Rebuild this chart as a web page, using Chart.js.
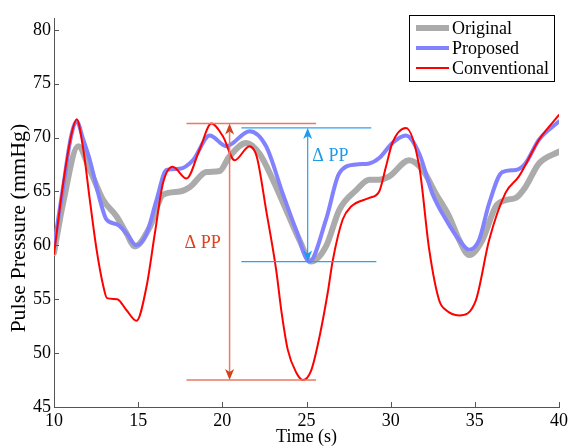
<!DOCTYPE html>
<html><head><meta charset="utf-8">
<script src="https://cdn.jsdelivr.net/npm/chart.js@4"></script>
<style>html,body{margin:0;padding:0;background:#fff}</style>
</head><body>
<canvas id="c" width="571" height="448"></canvas>
<script>
const xTicks = [10, 15, 20, 25, 30, 35, 40];
const yTicks = [45, 50, 55, 60, 65, 70, 75, 80];
const seriesNames = ['Original', 'Proposed', 'Conventional'];
const yTitle = 'Pulse Pressure (mmHg)';
const xTitle = 'Time (s)';

const originalT = [10, 10.55, 11.44, 12.13, 12.92, 13.71, 14.31, 14.8, 15.69, 16.48, 17.47, 18.06, 19.05, 19.84, 20.4, 21.42, 22.21, 23.0, 23.79, 24.58, 25.27, 26.16, 26.95, 27.94, 28.73, 29.32, 29.92, 31.1, 31.9, 32.68, 33.47, 34.07, 34.66, 35.45, 36.24, 36.83, 37.43, 38.0, 38.81, 40];
const originalP = [59.3, 64.0, 69.2, 67.0, 64.2, 62.7, 61.1, 59.9, 61.7, 64.7, 65.0, 65.4, 66.8, 66.9, 68.2, 69.5, 68.5, 66.1, 63.3, 60.5, 58.5, 59.9, 63.3, 65.1, 66.1, 66.1, 66.4, 67.9, 67.0, 64.8, 62.7, 60.5, 59.1, 60.5, 63.6, 64.2, 64.4, 65.4, 67.6, 68.7];

const proposedT = [10, 10.55, 11.0, 11.35, 11.74, 12.13, 12.73, 13.12, 13.81, 14.31, 14.9, 15.5, 16.09, 16.68, 17.47, 18.26, 19.25, 20.24, 21.62, 22.6, 23.59, 24.39, 25.17, 26.16, 26.95, 27.94, 28.73, 29.32, 30.1, 30.9, 31.7, 32.48, 33.28, 34.07, 34.66, 35.25, 35.85, 36.63, 37.43, 38.0, 38.81, 40];
const proposedP = [59.9, 65.5, 70.0, 71.5, 69.8, 67.9, 64.2, 62.4, 61.9, 61.1, 60.0, 61.1, 64.2, 67.0, 67.1, 67.9, 70.2, 69.2, 70.6, 69.2, 64.8, 61.4, 58.5, 62.4, 66.7, 67.5, 67.6, 68.1, 69.5, 70.2, 68.5, 64.8, 62.4, 60.5, 59.6, 60.5, 63.9, 66.8, 67.0, 67.6, 69.8, 71.5];

const conventionalT = [10, 10.55, 11.05, 11.35, 11.74, 12.13, 12.53, 12.93, 13.15, 13.75, 14.3, 14.9, 15.5, 15.99, 16.48, 17.05, 17.87, 18.65, 19.35, 20.04, 20.73, 21.62, 22.05, 22.6, 23.2, 23.5, 23.89, 24.39, 24.78, 25.28, 25.77, 26.26, 26.56, 27.15, 27.65, 28.73, 29.32, 29.72, 30.1, 30.9, 31.7, 32.29, 32.88, 33.28, 34.07, 35.06, 35.85, 36.83, 37.62, 38.81, 40];
const conventionalP = [59.2, 65.8, 70.4, 71.7, 68.9, 64.2, 59.6, 56.2, 55.1, 55.0, 54.0, 53.0, 56.2, 61.1, 65.8, 67.3, 66.2, 68.9, 71.3, 70.1, 67.9, 69.2, 68.2, 63.3, 57.7, 54.0, 50.3, 48.2, 47.5, 48.4, 51.5, 55.6, 58.6, 62.4, 63.6, 64.4, 65.0, 67.3, 69.5, 70.9, 67.3, 59.6, 54.9, 54.0, 53.5, 54.9, 60.5, 64.9, 66.4, 69.8, 72.1];

// Delta PP annotations: [arrow time, low value, high value], guide line spans in time
const convDelta = [20.43, 47.5, 71.3];
const convDeltaSpan = [17.87, 25.57];
const convDeltaLabel = [18.83, 60.2];
const propDelta = [25.07, 58.5, 70.9];
const propDeltaTopSpan = [21.13, 28.85];
const propDeltaBottomSpan = [21.13, 29.15];
const propDeltaLabel = [26.42, 68.3];
const deltaText = 'Δ PP';

const FONT = 'Liberation Serif';
const zip = (t, p) => t.map((v, i) => ({x: v, y: p[i]}));

const inwardTicks = {
  id: 'inwardTicks',
  afterDraw(chart) {
    const {ctx, scales: {x, y}, chartArea: a} = chart;
    ctx.save();
    ctx.strokeStyle = '#555';
    ctx.lineWidth = 1;
    ctx.beginPath();
    xTicks.forEach(v => { const px = Math.round(x.getPixelForValue(v)) + 0.5; ctx.moveTo(px, a.bottom); ctx.lineTo(px, a.bottom - 5); });
    yTicks.forEach(v => { const py = Math.round(y.getPixelForValue(v)) + 0.5; ctx.moveTo(a.left, py); ctx.lineTo(a.left + 5, py); });
    ctx.stroke();
    // y axis title
    ctx.save();
    ctx.translate(19, y.getPixelForValue(61.6));
    ctx.rotate(-Math.PI / 2);
    ctx.font = '22px "' + FONT + '"';
    ctx.fillStyle = '#000';
    ctx.textAlign = 'center';
    ctx.textBaseline = 'middle';
    ctx.fillText(yTitle, 0, 0);
    ctx.restore();
    ctx.restore();
  }
};

function arrowHead(ctx, x, y, dir) {
  ctx.beginPath();
  ctx.moveTo(x, y);
  ctx.lineTo(x - 4.5, y - dir * 11);
  ctx.lineTo(x, y - dir * 8);
  ctx.lineTo(x + 4.5, y - dir * 11);
  ctx.closePath();
  ctx.fill();
}

const deltaAnnotations = {
  id: 'deltaAnnotations',
  afterDatasetsDraw(chart) {
    const {ctx, scales: {x, y}} = chart;
    ctx.save();
    ctx.lineWidth = 1.5;
    ctx.strokeStyle = '#ea7a64';
    const cx = x.getPixelForValue(convDelta[0]);
    const cLo = y.getPixelForValue(convDelta[1]);
    const cHi = y.getPixelForValue(convDelta[2]);
    ctx.beginPath();
    ctx.moveTo(x.getPixelForValue(convDeltaSpan[0]), cHi); ctx.lineTo(x.getPixelForValue(convDeltaSpan[1]), cHi);
    ctx.moveTo(x.getPixelForValue(convDeltaSpan[0]), cLo); ctx.lineTo(x.getPixelForValue(convDeltaSpan[1]), cLo);
    ctx.moveTo(cx, cHi + 8); ctx.lineTo(cx, cLo - 8);
    ctx.stroke();
    ctx.fillStyle = '#d2401e';
    arrowHead(ctx, cx, cHi, -1);
    arrowHead(ctx, cx, cLo, 1);
    ctx.font = '18px "' + FONT + '"';
    ctx.textAlign = 'center'; ctx.textBaseline = 'middle';
    ctx.fillStyle = '#e0401c';
    ctx.fillText(deltaText, x.getPixelForValue(convDeltaLabel[0]), y.getPixelForValue(convDeltaLabel[1]));
    ctx.lineWidth = 1.2;
    ctx.strokeStyle = '#2aa2f2';
    const px = x.getPixelForValue(propDelta[0]);
    const pLo = y.getPixelForValue(propDelta[1]);
    const pHi = y.getPixelForValue(propDelta[2]);
    ctx.beginPath();
    ctx.moveTo(x.getPixelForValue(propDeltaTopSpan[0]), pHi); ctx.lineTo(x.getPixelForValue(propDeltaTopSpan[1]), pHi);
    ctx.moveTo(x.getPixelForValue(propDeltaBottomSpan[0]), pLo); ctx.lineTo(x.getPixelForValue(propDeltaBottomSpan[1]), pLo);
    ctx.moveTo(px, pHi + 8); ctx.lineTo(px, pLo - 8);
    ctx.stroke();
    ctx.fillStyle = '#1a9cf0';
    arrowHead(ctx, px, pHi, -1);
    arrowHead(ctx, px, pLo, 1);
    ctx.fillStyle = '#1e9be8';
    ctx.fillText(deltaText, x.getPixelForValue(propDeltaLabel[0]), y.getPixelForValue(propDeltaLabel[1]));
    ctx.restore();
  }
};

const boxLegend = {
  id: 'boxLegend',
  afterDraw(chart) {
    const {ctx} = chart;
    const left = 409, top = 15, w = 145, h = 66;
    ctx.save();
    ctx.fillStyle = '#fff';
    ctx.fillRect(left, top, w, h);
    ctx.strokeStyle = '#000';
    ctx.lineWidth = 1;
    ctx.strokeRect(left + 0.5, top + 0.5, w, h);
    ctx.font = '18px "' + FONT + '"';
    ctx.textBaseline = 'middle';
    ctx.textAlign = 'left';
    chart.data.datasets.forEach((ds, i) => {
      const cy = top + 13 + i * 20;
      ctx.strokeStyle = ds.borderColor;
      ctx.lineWidth = ds.borderWidth;
      ctx.beginPath();
      ctx.moveTo(left + 7, cy); ctx.lineTo(left + 40, cy);
      ctx.stroke();
      ctx.fillStyle = '#000';
      ctx.fillText(ds.label, left + 43, cy + 1);
    });
    ctx.restore();
  }
};

const tickFont = {family: FONT, size: 18};

new Chart(document.getElementById('c'), {
  type: 'line',
  data: {
    datasets: [
      {label: seriesNames[0], data: zip(originalT, originalP), borderColor: '#ababab', borderWidth: 6, order: 3},
      {label: seriesNames[1], data: zip(proposedT, proposedP), borderColor: '#8282ff', borderWidth: 4, order: 2},
      {label: seriesNames[2], data: zip(conventionalT, conventionalP), borderColor: '#ff0000', borderWidth: 2, order: 1}
    ]
  },
  options: {
    responsive: false,
    animation: false,
    devicePixelRatio: 1,
    elements: {
      point: {radius: 0, hoverRadius: 0},
      line: {cubicInterpolationMode: 'monotone', borderCapStyle: 'round', borderJoinStyle: 'round'}
    },
    layout: {padding: {top: 18, right: 11, left: 0, bottom: 0}},
    plugins: {legend: {display: false}, tooltip: {enabled: false}},
    scales: {
      x: {
        type: 'linear', min: 10, max: 40,
        afterBuildTicks: s => { s.ticks = xTicks.map(v => ({value: v})); },
        afterFit: s => { s.height = 41; },
        grid: {display: true, drawOnChartArea: false, drawTicks: false},
        border: {color: '#555', width: 1},
        ticks: {font: tickFont, color: '#000', padding: 3, maxRotation: 0, autoSkip: false},
        title: {display: true, text: xTitle, font: tickFont, color: '#000', padding: {top: 0, bottom: 0}}
      },
      y: {
        type: 'linear', min: 45, max: 81.1,
        afterBuildTicks: s => { s.ticks = yTicks.map(v => ({value: v})); },
        afterFit: s => { s.width = 54; },
        grid: {display: true, drawOnChartArea: false, drawTicks: false},
        border: {color: '#555', width: 1},
        ticks: {font: tickFont, color: '#000', padding: 3, autoSkip: false},
        title: {display: false, text: yTitle}
      }
    }
  },
  plugins: [inwardTicks, deltaAnnotations, boxLegend]
});
</script>
</body></html>
